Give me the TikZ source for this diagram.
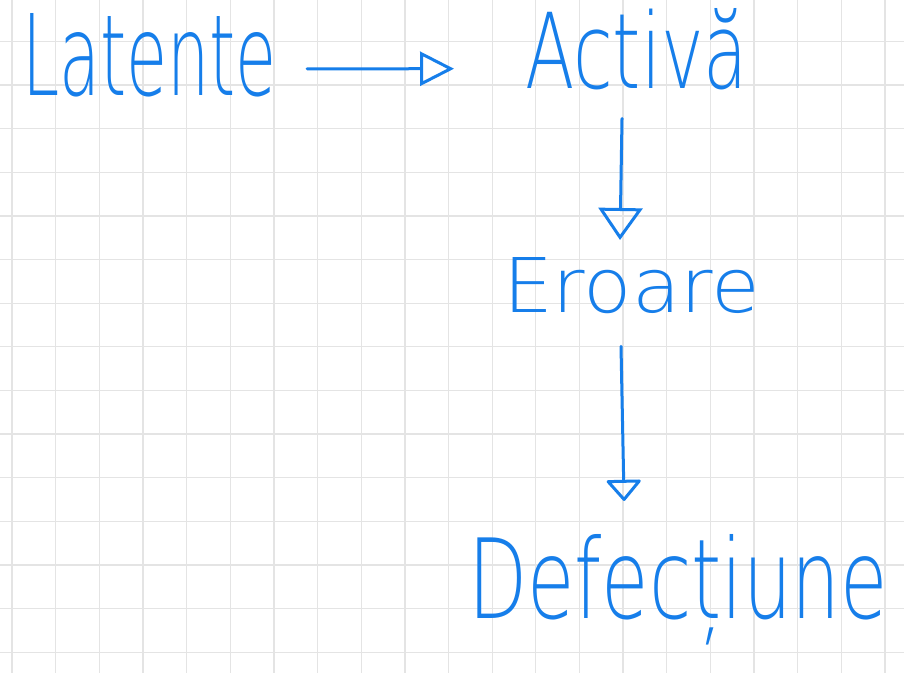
\documentclass[tikz,border=0pt]{standalone}
\usepackage{fontspec}
\usepackage{graphicx}
\newfontfamily\handfont{DejaVu Sans ExtraLight}
\usetikzlibrary{arrows.meta}
\definecolor{ink}{RGB}{22,126,234}
\definecolor{gridgray}{RGB}{228,228,228}
\tikzset{
  gridline/.style={draw=gridgray, line width=1.3pt},
  word/.style={inner sep=0pt, outer sep=0pt, text=ink, font=\handfont},
  arr/.style={draw=ink, line width=3pt, line cap=round, line join=round},
  headA/.style={-{Triangle[open, length=34pt, width=34pt, line width=3pt]}},
  headB/.style={-{Triangle[open, length=32pt, width=44pt, line width=3pt]}},
  headC/.style={-{Triangle[open, length=22pt, width=37pt, line width=3pt, round]}}
}
\begin{document}
\begin{tikzpicture}[x=1pt, y=-1pt]
\useasboundingbox (0,0) rectangle (904,673);
\fill[white] (0,0) rectangle (904,673);
% grid paper
\foreach \i in {0,...,20} \draw[gridline] ({12+43.65*\i},0) -- ++(0,673);
\foreach \j in {0,...,15} \draw[gridline] (0,{-2.2+43.63*\j}) -- ++(904,0);
% words
\node[word, anchor=base west] (lat) at (22,95) {\resizebox{255pt}{82pt}{Latente}};
\node[word, anchor=base west] (act) at (525,88) {\resizebox{223pt}{80pt}{Activă}};
\node[word, anchor=base west] (err) at (503,312) {\resizebox{257pt}{55pt}{Eroare}};
\node[word, anchor=base west] (def) at (468,618) {\resizebox{420pt}{84pt}{Defecțiune}};
% connectors
\draw[arr, headA] ([xshift=30pt, yshift=-14pt]lat.east) -- ([xshift=-71pt, yshift=-20pt]act.west);
\draw[arr, headB] ([xshift=-14.5pt, yshift=-29pt]act.south) -- ([xshift=-11.5pt, yshift=17pt]err.north);
\draw[arr, headC] ([xshift=-10.5pt, yshift=-33pt]err.south) -- ([xshift=-54pt, yshift=33pt]def.north);
\end{tikzpicture}
\end{document}
